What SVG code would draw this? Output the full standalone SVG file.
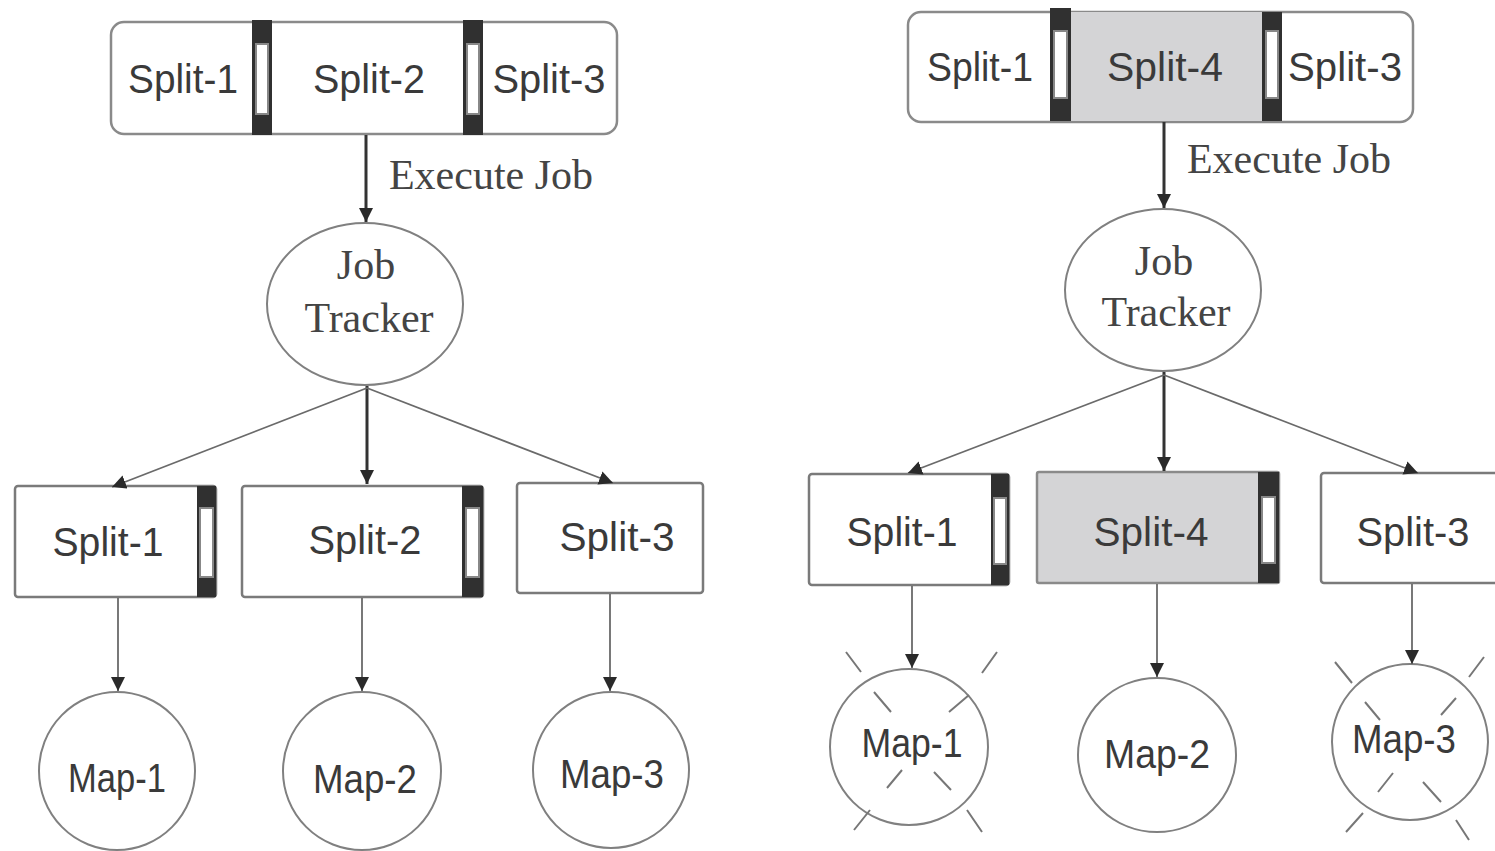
<svg xmlns="http://www.w3.org/2000/svg" width="1495" height="851" viewBox="0 0 1495 851">
<defs>
<marker id="ah" markerUnits="userSpaceOnUse" markerWidth="14" markerHeight="14" refX="12" refY="6" orient="auto" viewBox="0 0 12 12">
<path d="M0,0 L12,6 L0,12 z" fill="#2a2a2a"/>
</marker>
<style>
.bar{fill:#fff;stroke:#8a8a8a;stroke-width:2.5}
.box{fill:#fff;stroke:#7a7a7a;stroke-width:2.5}
.gray{fill:#d4d4d6}
.dk{fill:#303030}
.win{fill:#fff;stroke:#888;stroke-width:2}
.sans{font-family:"Liberation Sans",Arial,sans-serif;fill:#3a3a3a;font-size:41px;text-anchor:middle}
.serif{font-family:"Liberation Serif","Times New Roman",serif;fill:#444;font-size:42px;text-anchor:middle}
.ell{fill:#fff;stroke:#808080;stroke-width:2}
.main{stroke:#333;stroke-width:3;fill:none}
.thin{stroke:#6a6a6a;stroke-width:1.8;fill:none}
.x{stroke:#777;stroke-width:2}
</style>
</defs>

<!-- LEFT TOP BAR -->
<g id="top-left-bar">
<rect class="bar" x="111" y="22" width="506" height="112" rx="13"/>
<rect x="252" y="20" width="20" height="115" class="dk"/>
<rect x="256" y="44" width="12" height="70" class="win"/>
<rect x="463" y="20" width="20" height="115" class="dk"/>
<rect x="467" y="44" width="12" height="70" class="win"/>
<text class="sans" x="183" y="93" textLength="110" lengthAdjust="spacingAndGlyphs">Split-1</text>
<text class="sans" x="369" y="93" textLength="112" lengthAdjust="spacingAndGlyphs">Split-2</text>
<text class="sans" x="549" y="93" textLength="113" lengthAdjust="spacingAndGlyphs">Split-3</text>
</g>

<!-- RIGHT TOP BAR -->
<g id="top-right-bar">
<rect class="bar" x="908" y="12" width="505" height="110" rx="13"/>
<rect x="1071" y="12" width="191" height="109" class="gray"/>
<rect x="1050" y="8" width="21" height="113" class="dk"/>
<rect x="1054" y="31" width="13" height="67" class="win"/>
<rect x="1262" y="12" width="20" height="109" class="dk"/>
<rect x="1266" y="31" width="12" height="67" class="win"/>
<text class="sans" x="980" y="81" textLength="106" lengthAdjust="spacingAndGlyphs">Split-1</text>
<text class="sans" x="1165" y="81" textLength="116" lengthAdjust="spacingAndGlyphs">Split-4</text>
<text class="sans" x="1345" y="81" textLength="114" lengthAdjust="spacingAndGlyphs">Split-3</text>
</g>

<!-- JOB TRACKERS -->
<g id="jt-left">
<ellipse class="ell" cx="365" cy="304" rx="98" ry="81"/>
<text class="serif" x="366" y="279">Job</text>
<text class="serif" x="369" y="332">Tracker</text>
</g>
<g id="jt-right">
<ellipse class="ell" cx="1163" cy="290" rx="98" ry="81"/>
<text class="serif" x="1164" y="275">Job</text>
<text class="serif" x="1166" y="326">Tracker</text>
</g>

<!-- LEFT SPLIT BOXES -->
<g id="ls1">
<rect class="box" x="15" y="486" width="201" height="111" rx="3"/>
<rect x="197" y="486" width="19" height="111" class="dk"/>
<rect x="200" y="508" width="13" height="69" class="win"/>
<text class="sans" x="108" y="556" textLength="111" lengthAdjust="spacingAndGlyphs">Split-1</text>
</g>
<g id="ls2">
<rect class="box" x="242" y="486" width="241" height="111" rx="3"/>
<rect x="462" y="486" width="21" height="111" class="dk"/>
<rect x="466" y="508" width="13" height="69" class="win"/>
<text class="sans" x="365" y="554" textLength="113" lengthAdjust="spacingAndGlyphs">Split-2</text>
</g>
<g id="ls3">
<rect class="box" x="517" y="483" width="186" height="110" rx="3"/>
<text class="sans" x="617" y="551" textLength="115" lengthAdjust="spacingAndGlyphs">Split-3</text>
</g>

<!-- RIGHT SPLIT BOXES -->
<g id="rs1">
<rect class="box" x="809" y="474" width="200" height="111" rx="3"/>
<rect x="991" y="474" width="18" height="111" class="dk"/>
<rect x="994" y="498" width="12" height="66" class="win"/>
<text class="sans" x="902" y="546" textLength="111" lengthAdjust="spacingAndGlyphs">Split-1</text>
</g>
<g id="rs4">
<rect x="1037" y="472" width="242" height="111" rx="2" fill="#d4d4d6" stroke="#8a8a8a" stroke-width="2.5"/>
<rect x="1258" y="472" width="21" height="111" class="dk"/>
<rect x="1262" y="497" width="13" height="66" class="win"/>
<text class="sans" x="1151" y="546" textLength="115" lengthAdjust="spacingAndGlyphs">Split-4</text>
</g>
<g id="rs3">
<rect class="box" x="1321" y="473" width="190" height="110" rx="3"/>
<text class="sans" x="1413" y="546" textLength="113" lengthAdjust="spacingAndGlyphs">Split-3</text>
</g>

<!-- LEFT MAPS -->
<g id="lm1">
<ellipse class="ell" cx="117" cy="771" rx="78" ry="79"/>
<text class="sans" x="117" y="792" textLength="98" lengthAdjust="spacingAndGlyphs">Map-1</text>
</g>
<g id="lm2">
<ellipse class="ell" cx="362" cy="771" rx="79" ry="79"/>
<text class="sans" x="365" y="793" textLength="104" lengthAdjust="spacingAndGlyphs">Map-2</text>
</g>
<g id="lm3">
<ellipse class="ell" cx="611" cy="770" rx="78" ry="78"/>
<text class="sans" x="612" y="788" textLength="104" lengthAdjust="spacingAndGlyphs">Map-3</text>
</g>

<!-- RIGHT MAPS -->
<g id="rm1">
<ellipse class="ell" cx="909" cy="747" rx="79" ry="78"/>
<text class="sans" x="912" y="757" textLength="101" lengthAdjust="spacingAndGlyphs">Map-1</text>
<path class="x" d="M846,652 L861,672 M997,652 L982,673 M874,692 L891,712 M969,695 L949,712 M902,770 L887,788 M934,772 L951,790 M870,810 L854,830 M967,810 L982,832"/>
</g>
<g id="rm2">
<ellipse class="ell" cx="1157" cy="755" rx="79" ry="77"/>
<text class="sans" x="1157" y="768" textLength="106" lengthAdjust="spacingAndGlyphs">Map-2</text>
</g>
<g id="rm3">
<ellipse class="ell" cx="1410" cy="742" rx="78" ry="78"/>
<text class="sans" x="1404" y="753" textLength="104" lengthAdjust="spacingAndGlyphs">Map-3</text>
<path class="x" d="M1335,662 L1352,683 M1484,657 L1469,677 M1365,702 L1380,720 M1456,698 L1441,715 M1393,773 L1378,792 M1423,782 L1441,802 M1363,813 L1346,832 M1456,820 L1469,840"/>
</g>

<!-- CONNECTORS -->
<g id="connectors">
<line class="main" x1="366" y1="135" x2="366" y2="222" marker-end="url(#ah)"/>
<text class="serif" x="491" y="189" font-size="43">Execute Job</text>
<line class="main" x1="1164" y1="122" x2="1164" y2="208" marker-end="url(#ah)"/>
<text class="serif" x="1289" y="173" font-size="43">Execute Job</text>

<line class="main" x1="367" y1="386" x2="367" y2="484" marker-end="url(#ah)"/>
<line class="thin" x1="367" y1="388" x2="112" y2="487" marker-end="url(#ah)"/>
<line class="thin" x1="367" y1="388" x2="613" y2="483" marker-end="url(#ah)"/>

<line class="main" x1="1164" y1="372" x2="1164" y2="471" marker-end="url(#ah)"/>
<line class="thin" x1="1164" y1="375" x2="908" y2="473" marker-end="url(#ah)"/>
<line class="thin" x1="1164" y1="375" x2="1418" y2="473" marker-end="url(#ah)"/>

<line class="thin" x1="118" y1="598" x2="118" y2="691" marker-end="url(#ah)"/>
<line class="thin" x1="362" y1="598" x2="362" y2="691" marker-end="url(#ah)"/>
<line class="thin" x1="610" y1="594" x2="610" y2="691" marker-end="url(#ah)"/>

<line class="thin" x1="912" y1="586" x2="912" y2="668" marker-end="url(#ah)"/>
<line class="thin" x1="1157" y1="584" x2="1157" y2="677" marker-end="url(#ah)"/>
<line class="thin" x1="1412" y1="584" x2="1412" y2="664" marker-end="url(#ah)"/>
</g>
</svg>
